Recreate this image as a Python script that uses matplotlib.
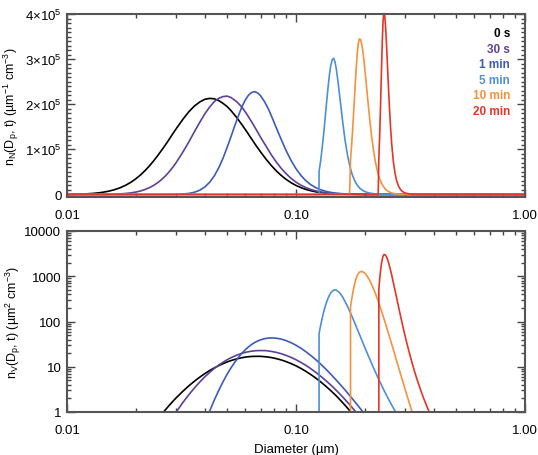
import numpy as np
import matplotlib
matplotlib.use('Agg')
import matplotlib.pyplot as plt
from matplotlib.ticker import LogLocator, FixedLocator, MultipleLocator, NullFormatter, FixedFormatter

plt.rcParams['font.family'] = ['Liberation Sans', 'DejaVu Sans']
plt.rcParams['mathtext.fontset'] = 'custom'
plt.rcParams['mathtext.rm'] = 'Liberation Sans'
plt.rcParams['mathtext.it'] = 'Liberation Sans:italic'
plt.rcParams['mathtext.default'] = 'regular'

# ---------------- data (diameter in um, number distribution in 1e5 um^-1 cm^-3) ----------------
labels = ['0 s', '30 s', '1 min', '5 min', '10 min', '20 min']

diam_0s = [0.010, 0.011, 0.012, 0.013, 0.014, 0.015, 0.016, 0.017, 0.018, 0.019, 0.020, 0.021, 0.022, 0.023,
           0.024, 0.025, 0.026, 0.027, 0.028, 0.029, 0.030, 0.032, 0.034, 0.036, 0.038, 0.040, 0.042, 0.044,
           0.046, 0.048, 0.050, 0.052, 0.055, 0.058, 0.061, 0.064, 0.067, 0.070, 0.074, 0.078, 0.082, 0.086,
           0.090, 0.095, 0.100, 0.105, 0.110, 0.116, 0.122, 0.128, 0.135, 0.142, 0.150, 0.158, 0.166, 0.175,
           0.185, 0.195, 1.0]
nN_0s = [0.00257, 0.00607, 0.0126, 0.0238, 0.0411, 0.0663, 0.101, 0.146, 0.202, 0.27, 0.349, 0.438, 0.537,
         0.644, 0.757, 0.874, 0.993, 1.11, 1.23, 1.35, 1.46, 1.66, 1.83, 1.96, 2.05, 2.11, 2.13, 2.12, 2.08,
         2.02, 1.95, 1.86, 1.71, 1.55, 1.39, 1.23, 1.08, 0.945, 0.782, 0.643, 0.524, 0.426, 0.344, 0.263, 0.2,
         0.152, 0.115, 0.0824, 0.0591, 0.0424, 0.0288, 0.0197, 0.0128, 0.00831, 0.00544, 0.0034, 0.00204,
         0.00123, 0.0]

diam_30s = [0.010, 0.013, 0.014, 0.015, 0.016, 0.017, 0.018, 0.019, 0.020, 0.021, 0.022, 0.023, 0.024, 0.025,
            0.026, 0.027, 0.028, 0.029, 0.030, 0.032, 0.034, 0.036, 0.038, 0.040, 0.042, 0.044, 0.046, 0.048,
            0.050, 0.052, 0.055, 0.058, 0.061, 0.064, 0.067, 0.070, 0.074, 0.078, 0.082, 0.086, 0.090, 0.095,
            0.100, 0.105, 0.110, 0.116, 0.122, 0.128, 0.135, 0.142, 0.150, 0.158, 0.166, 0.175, 0.185, 0.195,
            0.205, 1.0]
nN_30s = [0.0, 0.000675, 0.00162, 0.00349, 0.00688, 0.0126, 0.0216, 0.0349, 0.0538, 0.0795, 0.113, 0.155,
          0.207, 0.268, 0.339, 0.419, 0.509, 0.606, 0.71, 0.933, 1.16, 1.39, 1.6, 1.79, 1.94, 2.06, 2.13, 2.17,
          2.18, 2.15, 2.06, 1.94, 1.78, 1.61, 1.44, 1.27, 1.07, 0.88, 0.72, 0.585, 0.473, 0.36, 0.273, 0.206,
          0.156, 0.111, 0.0792, 0.0566, 0.0384, 0.0262, 0.017, 0.0111, 0.0073, 0.0046, 0.00279, 0.00171,
          0.00106, 0.0]

diam_1min = [0.010, 0.022, 0.023, 0.024, 0.025, 0.026, 0.027, 0.028, 0.029, 0.030, 0.032, 0.034, 0.036, 0.038,
             0.040, 0.042, 0.044, 0.046, 0.048, 0.050, 0.052, 0.054, 0.056, 0.058, 0.060, 0.062, 0.064, 0.066,
             0.068, 0.070, 0.073, 0.076, 0.079, 0.082, 0.086, 0.090, 0.095, 0.100, 0.105, 0.110, 0.116, 0.122,
             0.128, 0.135, 0.142, 0.150, 0.158, 0.166, 0.175, 0.185, 0.195, 0.205, 0.215, 1.0]
nN_1min = [0.0, 6.62e-06, 1.83e-05, 4.65e-05, 0.00011, 0.000242, 0.000503, 0.000988, 0.00185, 0.00329,
           0.00926, 0.0225, 0.0486, 0.0942, 0.167, 0.272, 0.414, 0.592, 0.802, 1.04, 1.28, 1.52, 1.74, 1.94,
           2.09, 2.2, 2.26, 2.28, 2.25, 2.19, 2.05, 1.88, 1.68, 1.48, 1.23, 1.0, 0.761, 0.571, 0.424, 0.313,
           0.217, 0.151, 0.105, 0.0687, 0.0455, 0.0286, 0.0183, 0.0118, 0.00731, 0.00438, 0.00268, 0.00166,
           0.00105, 0.0]

diam_5min = [0.010, 0.1260, 0.1261, 0.128, 0.130, 0.132, 0.134, 0.136, 0.138, 0.140, 0.142, 0.144, 0.146, 0.148,
             0.150, 0.153, 0.156, 0.160, 0.164, 0.168, 0.172, 0.176, 0.180, 0.185, 0.190, 0.196, 0.203, 0.210,
             0.220, 0.230, 0.240, 0.250, 0.262, 0.275, 0.290, 1.0]
nN_5min = [0.0, 0.0, 0.515, 0.731, 1.01, 1.33, 1.68, 2.04, 2.37, 2.66, 2.87, 2.99, 3.02, 2.94, 2.78, 2.45, 2.08,
           1.6, 1.18, 0.86, 0.618, 0.441, 0.315, 0.207, 0.138, 0.0854, 0.0501, 0.0302, 0.0153, 0.00818,
           0.00459, 0.00269, 0.0015, 0.000839, 0.000459, 0.0]

diam_10min = [0.010, 0.1714, 0.173, 0.175, 0.177, 0.179, 0.181, 0.183, 0.185, 0.187, 0.189, 0.191, 0.193, 0.195,
              0.198, 0.201, 0.204, 0.207, 0.210, 0.214, 0.218, 0.222, 0.227, 0.232, 0.238, 0.245, 0.252, 0.260,
              0.270, 0.280, 0.290, 0.300, 0.315, 0.330, 0.345, 1.0]
nN_10min = [0.0, 0.0, 0.771, 1.1, 1.48, 1.91, 2.35, 2.76, 3.1, 3.34, 3.45, 3.44, 3.37, 3.24, 2.97, 2.65, 2.3,
            1.97, 1.65, 1.28, 0.976, 0.732, 0.505, 0.344, 0.215, 0.124, 0.0717, 0.0386, 0.0181, 0.00871,
            0.00431, 0.0022, 0.000845, 0.000346, 0.00015, 0.0]

diam_20min = [0.010, 0.2285, 0.230, 0.232, 0.234, 0.236, 0.238, 0.240, 0.242, 0.244, 0.246, 0.248, 0.250, 0.252,
              0.254, 0.256, 0.259, 0.262, 0.266, 0.270, 0.275, 0.280, 0.286, 0.292, 0.299, 0.306, 0.314, 0.322,
              0.331, 0.340, 0.350, 0.360, 0.372, 0.385, 0.400, 1.0]
nN_20min = [0.0, 0.0, 0.805, 1.32, 1.97, 2.69, 3.36, 3.85, 4.05, 3.97, 3.74, 3.41, 3.03, 2.64, 2.26, 1.91, 1.46,
            1.1, 0.744, 0.501, 0.307, 0.19, 0.109, 0.0638, 0.0355, 0.0205, 0.0115, 0.00669, 0.00383, 0.0023,
            0.00137, 0.000849, 0.000506, 0.000305, 0.000181, 0.0]

diameters = [diam_0s, diam_30s, diam_1min, diam_5min, diam_10min, diam_20min]
number_dists = [nN_0s, nN_30s, nN_1min, nN_5min, nN_10min, nN_20min]
colors = ['#000000', '#60409a', '#3c5cb8', '#4d90d6', '#f5923e', '#e53529']

x_ticks = [0.01, 0.1, 1.0]
x_ticklabels = ['0.01', '0.10', '1.00']
top_yticks = [0, 1e5, 2e5, 3e5, 4e5]
top_yticklabels = ['0', '1×10$^5$', '2×10$^5$', '3×10$^5$', '4×10$^5$']
bot_yticks = [1, 10, 100, 1000, 10000]
bot_yticklabels = ['1', '10', '100', '1000', '10000']

# ---------------- figure ----------------
fig = plt.figure(figsize=(5.38, 4.56), dpi=100)
ax1 = fig.add_axes([67/538, 1-197.5/456, 458/538, 182.5/456])
ax2 = fig.add_axes([67/538, 1-413/456, 458/538, 181/456])

for D, nN, c in zip(diameters, number_dists, colors):
    D = np.array(D)
    nN = np.array(nN) * 1e5
    ax1.plot(D, nN, color=c, lw=1.2)
    # volume distribution: (pi/6) D^3 n_N
    ax2.plot(D, np.pi / 6 * D ** 3 * nN, color=c, lw=1.2)

for ax in (ax1, ax2):
    ax.set_xscale('log')
    ax.set_xlim(0.01, 1.0)
    ax.xaxis.set_major_locator(FixedLocator(x_ticks))
    ax.xaxis.set_major_formatter(FixedFormatter(x_ticklabels))
    ax.xaxis.set_minor_locator(LogLocator(base=10, subs=np.arange(2, 10)))
    ax.xaxis.set_minor_formatter(NullFormatter())
    ax.tick_params(which='both', direction='in', top=True, right=True, labelsize=9.5, color='#444444')
    ax.tick_params(axis='x', pad=9)
    ax.tick_params(axis='y', pad=4)
    ax.tick_params(which='major', length=6, width=1)
    ax.tick_params(which='minor', length=3, width=1)
    for s in ax.spines.values():
        s.set_linewidth(1.5)
        s.set_color('#555555')

ax1.set_ylim(-4500, 4e5)
ax1.yaxis.set_major_locator(FixedLocator(top_yticks))
ax1.yaxis.set_major_formatter(FixedFormatter(top_yticklabels))
ax1.yaxis.set_minor_locator(MultipleLocator(1e4))
ax1.set_ylabel('n$_N$(D$_p$, t) (µm$^{-1}$ cm$^{-3}$)', fontsize=9)
ax1.yaxis.set_label_coords(-0.10, 0.5)

ax2.set_yscale('log')
ax2.set_ylim(1, 1e4)
ax2.yaxis.set_major_locator(FixedLocator(bot_yticks))
ax2.yaxis.set_major_formatter(FixedFormatter(bot_yticklabels))
ax2.yaxis.set_minor_locator(LogLocator(base=10, subs=np.arange(2, 10)))
ax2.yaxis.set_minor_formatter(NullFormatter())
ax2.set_ylabel('n$_V$(D$_p$, t) (µm$^2$ cm$^{-3}$)', fontsize=9)
ax2.yaxis.set_label_coords(-0.095, 0.5)
ax2.set_xlabel('Diameter (µm)', fontsize=9.5, labelpad=5)

for i, (lab, c) in enumerate(zip(labels, colors)):
    ax1.text(0.967, 0.896 - i * 0.0855, lab, transform=ax1.transAxes, ha='right', va='center',
             color=c, fontsize=8.5, fontweight='bold')

fig.savefig('out.png', dpi=100)
